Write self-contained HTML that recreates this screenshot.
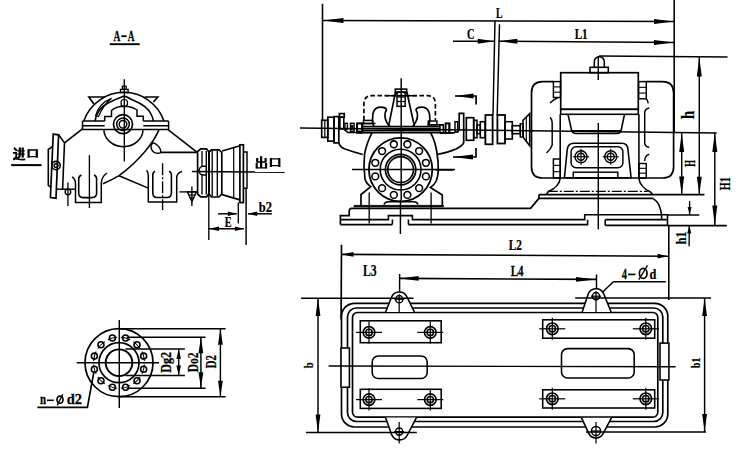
<!DOCTYPE html>
<html><head><meta charset="utf-8"><style>
html,body{margin:0;padding:0;background:#fff;width:750px;height:450px;overflow:hidden}
svg{display:block}
text{font-family:"Liberation Serif",serif;font-weight:bold;fill:#000;stroke:#000;stroke-width:0.25px}
</style></head><body>
<svg width="750" height="450" viewBox="0 0 750 450">
<g fill="none" stroke="#000" stroke-width="1.5" stroke-linecap="butt" stroke-linejoin="miter">
<text transform="matrix(0.6090,0,0,1,113.50,40.60)" font-size="15.61">A</text>
<line x1="121.30" y1="36.20" x2="126.60" y2="36.20" stroke-width="1.79"/>
<text transform="matrix(0.5999,0,0,1,127.71,40.60)" font-size="15.61">A</text>
<line x1="109.70" y1="44.20" x2="139.70" y2="44.20" stroke-width="1.90"/>
<path d="M14,147.8 Q16,149 16.6,151" stroke-width="2.13"/>
<path d="M12.9,152.8 H16.2 V157 L13.3,159.8" stroke-width="1.79"/>
<path d="M13.5,158.8 Q15.5,158.3 17.5,159 Q21,159.8 25.3,159.4" stroke-width="1.79"/>
<path d="M17.3,150.8 H24.8 M17.3,154.1 H24.8" stroke-width="1.34"/>
<path d="M19.8,147.5 V155.5 Q19.5,157.5 17.3,158.3" stroke-width="2.24"/>
<path d="M22.7,147.5 V157.6" stroke-width="2.24"/>
<path d="M28.6,149.2 V157.8 M36.8,149.2 V157.8" stroke-width="2.24"/>
<path d="M28.6,150 H36.8 M28.6,156.6 H36.8" stroke-width="1.34"/>
<line x1="11.20" y1="165.10" x2="41.50" y2="165.10" stroke-width="2.02"/>
<path d="M83.8,121 A42.4,42.4 0 0 1 164,121"/>
<path d="M95,121 Q97,109 108,103 Q116,99 120.5,97.5 Q124.3,95.3 128,97.5 Q131,99.5 134.4,100.8 Q147,106 151,114 Q153,118 153.4,121" stroke-width="1.57"/>
<path d="M95.5,116 Q99,103 111.6,98.3 Q104,104 98.5,116.5 Z" stroke-width="1.23"/>
<path d="M93.9,104 L88.9,97 L105.3,97" stroke-width="1.68"/>
<path d="M153.4,102 L157.8,97 L144.6,97" stroke-width="1.68"/>
<line x1="124.30" y1="79.30" x2="124.30" y2="161.40" stroke-width="1.34"/>
<rect x="122.40" y="86.20" width="3.80" height="3.20" stroke-width="1.23"/>
<rect x="120.50" y="89.40" width="7.60" height="3.20" stroke-width="1.34"/>
<rect x="121.00" y="99.50" width="6.50" height="7.00" rx="3" stroke-width="1.23"/>
<path d="M104.7,121 V116.5 H111.5 V110.5 Q116,106.5 124.3,106.3 Q132,106.5 137,110 V116.3 H143.3 V121"/>
<path d="M82.5,121 H104.7 M143.3,121 H168.6 M82.5,125.7 H104.7 M143.3,125.7 H168.6 M82.5,129.6 H168.6 M82.5,121 V129.6 M168.6,121 V129.6"/>
<circle cx="123.00" cy="124.20" r="9.5" stroke-width="1.68"/>
<circle cx="123.00" cy="124.20" r="6.3" stroke-width="1.46"/>
<circle cx="123.00" cy="124.20" r="3.8" stroke-width="1.46"/>
<path d="M103.9,129.6 A19.5,17 0 0 0 143,129.6"/>
<path d="M159,129.6 C154,142 140,160 119,175.7 Q112,180 103,183.7"/>
<path d="M119,175.7 L148.3,188.1" stroke-width="1.57"/>
<path d="M152.5,142.8 Q149,148 154,152.3 Q158,154 160.8,152.6 Q161,148 157,145 Q155,143 152.5,142.8 Z" stroke-width="1.46"/>
<path d="M160.8,152.4 H197.2" stroke-width="1.57"/>
<path d="M168,129.6 L197.2,152.4" stroke-width="1.57"/>
<path d="M53.2,134.2 L58.6,134.8 L56,198.2 L50.4,197.6 Z" stroke-width="1.68"/>
<path d="M52.3,146.7 L48.3,149.5 L48.3,185.4 L50.9,187.3" stroke-width="1.57"/>
<path d="M58.6,134.8 L64.5,142.9 L62.6,189.2" stroke-width="1.57"/>
<path d="M64.5,142.9 L82.5,128.8" stroke-width="1.68"/>
<circle cx="56.00" cy="165.60" r="4.2" stroke-width="1.57"/>
<circle cx="56.00" cy="165.60" r="1.9" stroke-width="1.46"/>
<path d="M56.5,189.2 H74.9" stroke-width="1.46"/>
<line x1="67.90" y1="182.50" x2="67.90" y2="206.00" stroke-width="1.34"/>
<circle cx="67.90" cy="192.00" r="2.8" stroke-width="1.34"/>
<path d="M72,176.9 Q75.5,179 75.5,184 V202.4 H101.3 V183 Q101.5,177 107,173"/>
<path d="M81.5,175 Q78.7,176 78.7,179 V193 Q78.7,197.6 83,197.6 H92 Q96.6,197.6 96.6,193 V179 Q96.6,176 94,175" stroke-width="1.57"/>
<line x1="89.40" y1="155.20" x2="89.40" y2="208.00" stroke-width="1.34"/>
<path d="M146.6,170.3 Q148.3,172 148.3,176 V202 H176.7 V178 Q176.7,173 182.1,171.4"/>
<path d="M155,171.2 Q152.8,172 152.8,175 V193 Q152.8,197.5 157,197.5 H167 Q171.4,197.5 171.4,193 V175 Q171.4,172 169,171.2" stroke-width="1.57"/>
<line x1="162.60" y1="163.20" x2="162.60" y2="210.00" stroke-width="1.34" stroke-dasharray="12,2,2,2"/>
<line x1="191.90" y1="186.60" x2="191.90" y2="206.00" stroke-width="1.34"/>
<line x1="179.40" y1="191.90" x2="197.20" y2="191.90" stroke-width="1.34"/>
<path d="M187.4,191.9 H196.3 L191.9,201.7 Z" stroke-width="1.34"/>
<line x1="188.50" y1="195.00" x2="195.30" y2="195.00" stroke-width="1.12"/>
<line x1="189.50" y1="198.00" x2="194.30" y2="198.00" stroke-width="1.12"/>
<path d="M197.6,151.5 L200.8,148.8 H206.5 L209,152 V193.5 L206.5,196.8 H200.8 L197.6,194 Z" stroke-width="1.68"/>
<line x1="202.00" y1="151.00" x2="202.00" y2="166.20" stroke-width="1.34"/>
<line x1="202.00" y1="175.00" x2="202.00" y2="194.50" stroke-width="1.34"/>
<line x1="206.30" y1="151.00" x2="206.30" y2="194.50" stroke-width="1.34"/>
<path d="M203.4,166.2 A4.4,4.4 0 0 0 203.4,175 H206.3 V166.2 Z" stroke-width="1.57" fill="#fff"/>
<path d="M209,152 L211.5,149.8 H219 L221.8,152.5 V194 L219,197 H211.5 L209,194 Z" stroke-width="1.68"/>
<line x1="212.20" y1="150.50" x2="212.20" y2="196.00" stroke-width="1.34"/>
<line x1="217.30" y1="150.50" x2="217.30" y2="196.00" stroke-width="1.34"/>
<path d="M222.1,151 L239.9,145.7 M222.1,194.6 L239.9,199.9" stroke-width="1.68"/>
<line x1="233.70" y1="148.00" x2="233.70" y2="197.50" stroke-width="1.23"/>
<rect x="239.90" y="144.80" width="3.50" height="57.80" stroke-width="1.68"/>
<path d="M243.4,151.9 H247 V188.3 H243.4" stroke-width="1.46"/>
<line x1="191.90" y1="171.50" x2="284.70" y2="172.20" stroke-width="1.68"/>
<path d="M261.1,156.2 V167.8" stroke-width="2.24"/>
<path d="M257.2,158 V162.4 M265.6,158 V162.4 M256.7,163 V168.5 M266.1,163 V168.5" stroke-width="2.13"/>
<path d="M257.2,162 H265.6 M256.7,167.9 H266.1" stroke-width="1.34"/>
<path d="M270.9,158 V166.9 M279.3,158 V166.9" stroke-width="2.24"/>
<path d="M270.9,158.9 H279.3 M270.9,165.7 H279.3" stroke-width="1.34"/>
<line x1="208.80" y1="193.70" x2="208.80" y2="240.00" stroke-width="1.34"/>
<line x1="238.30" y1="202.60" x2="238.30" y2="223.40" stroke-width="1.34"/>
<line x1="246.10" y1="188.30" x2="246.10" y2="245.00" stroke-width="1.46"/>
<line x1="218.10" y1="213.80" x2="236.80" y2="213.80" stroke-width="1.46"/>
<polygon points="236.80,213.80 227.80,211.50 227.80,216.10" fill="#000" stroke="none"/>
<line x1="247.90" y1="213.80" x2="271.90" y2="213.80" stroke-width="1.46"/>
<polygon points="247.90,213.80 257.20,211.50 257.20,216.10" fill="#000" stroke="none"/>
<text transform="matrix(0.8965,0,0,1,258.81,211.76)" font-size="13.90">b2</text>
<line x1="208.80" y1="228.80" x2="243.90" y2="228.80" stroke-width="1.46"/>
<polygon points="209.00,228.80 219.00,226.50 219.00,231.10" fill="#000" stroke="none"/>
<polygon points="243.90,228.80 234.90,226.50 234.90,231.10" fill="#000" stroke="none"/>
<text transform="matrix(0.7200,0,0,1,224.65,226.60)" font-size="14.35">E</text>
<circle cx="119.00" cy="362.70" r="34" stroke-width="1.68"/>
<circle cx="119.00" cy="362.70" r="20" stroke-width="1.68"/>
<circle cx="119.00" cy="362.70" r="13.3" stroke-width="1.90"/>
<circle cx="143.63" cy="356.10" r="3.0" stroke-width="1.57"/>
<path d="M144.44,360.92 A25.5,25.5 0 0 0 141.92,351.52" stroke-width="1.01"/>
<circle cx="137.03" cy="344.67" r="3.0" stroke-width="1.57"/>
<path d="M140.14,348.44 A25.5,25.5 0 0 0 133.26,341.56" stroke-width="1.01"/>
<circle cx="125.60" cy="338.07" r="3.0" stroke-width="1.57"/>
<path d="M130.18,339.78 A25.5,25.5 0 0 0 120.78,337.26" stroke-width="1.01"/>
<circle cx="112.40" cy="338.07" r="3.0" stroke-width="1.57"/>
<path d="M117.22,337.26 A25.5,25.5 0 0 0 107.82,339.78" stroke-width="1.01"/>
<circle cx="100.97" cy="344.67" r="3.0" stroke-width="1.57"/>
<path d="M104.74,341.56 A25.5,25.5 0 0 0 97.86,348.44" stroke-width="1.01"/>
<circle cx="94.37" cy="356.10" r="3.0" stroke-width="1.57"/>
<path d="M96.08,351.52 A25.5,25.5 0 0 0 93.56,360.92" stroke-width="1.01"/>
<circle cx="94.37" cy="369.30" r="3.0" stroke-width="1.57"/>
<path d="M93.56,364.48 A25.5,25.5 0 0 0 96.08,373.88" stroke-width="1.01"/>
<circle cx="100.97" cy="380.73" r="3.0" stroke-width="1.57"/>
<path d="M97.86,376.96 A25.5,25.5 0 0 0 104.74,383.84" stroke-width="1.01"/>
<circle cx="112.40" cy="387.33" r="3.0" stroke-width="1.57"/>
<path d="M107.82,385.62 A25.5,25.5 0 0 0 117.22,388.14" stroke-width="1.01"/>
<circle cx="125.60" cy="387.33" r="3.0" stroke-width="1.57"/>
<path d="M120.78,388.14 A25.5,25.5 0 0 0 130.18,385.62" stroke-width="1.01"/>
<circle cx="137.03" cy="380.73" r="3.0" stroke-width="1.57"/>
<path d="M133.26,383.84 A25.5,25.5 0 0 0 140.14,376.96" stroke-width="1.01"/>
<circle cx="143.63" cy="369.30" r="3.0" stroke-width="1.57"/>
<path d="M141.92,373.88 A25.5,25.5 0 0 0 144.44,364.48" stroke-width="1.01"/>
<line x1="119.30" y1="320.00" x2="119.30" y2="408.00" stroke-width="1.46"/>
<line x1="76.70" y1="362.70" x2="159.00" y2="362.70" stroke-width="1.46"/>
<line x1="119.00" y1="328.70" x2="225.60" y2="328.70" stroke-width="1.46"/>
<line x1="119.00" y1="396.70" x2="225.60" y2="396.70" stroke-width="1.46"/>
<line x1="126.70" y1="337.20" x2="205.60" y2="337.20" stroke-width="1.46"/>
<line x1="126.70" y1="388.20" x2="205.60" y2="388.20" stroke-width="1.46"/>
<line x1="125.50" y1="349.00" x2="184.90" y2="349.00" stroke-width="1.46"/>
<line x1="125.50" y1="375.60" x2="184.90" y2="375.60" stroke-width="1.46"/>
<line x1="220.40" y1="328.70" x2="220.40" y2="396.70" stroke-width="1.46"/>
<polygon points="220.40,328.70 218.00,344.70 222.80,344.70" fill="#000" stroke="none"/>
<polygon points="220.40,396.70 218.00,380.70 222.80,380.70" fill="#000" stroke="none"/>
<line x1="200.90" y1="337.20" x2="200.90" y2="388.20" stroke-width="1.46"/>
<polygon points="200.90,337.20 198.50,353.20 203.30,353.20" fill="#000" stroke="none"/>
<polygon points="200.90,388.20 198.50,372.20 203.30,372.20" fill="#000" stroke="none"/>
<line x1="178.70" y1="349.00" x2="178.70" y2="375.60" stroke-width="1.46"/>
<polygon points="178.70,349.00 176.40,359.00 181.00,359.00" fill="#000" stroke="none"/>
<polygon points="178.70,375.60 176.40,365.60 181.00,365.60" fill="#000" stroke="none"/>
<text transform="matrix(0,-0.7305,1,0,216.40,368.21)" font-size="14.70">D2</text>
<text transform="matrix(0,-0.7581,1,0,198.05,372.23)" font-size="15.22">Do2</text>
<text transform="matrix(0,-0.8862,1,0,171.20,372.64)" font-size="13.64">Dg2</text>
<path d="M37.4,407.4 H87.4 L94,371.3" stroke-width="1.68"/>
<text transform="matrix(0.7516,0,0,1,39.93,403.80)" font-size="14.47">n</text>
<line x1="47.00" y1="400.30" x2="53.80" y2="400.30" stroke-width="1.57"/>
<ellipse cx="60" cy="399.7" rx="3" ry="3.6" stroke-width="1.68"/>
<line x1="62.80" y1="394.20" x2="57.20" y2="405.40" stroke-width="1.34"/>
<text transform="matrix(1.0383,0,0,1,66.82,403.86)" font-size="13.90">d2</text>
<line x1="322.50" y1="3.80" x2="322.50" y2="121.00" stroke-width="1.57"/>
<line x1="322.50" y1="20.50" x2="674.00" y2="21.50" stroke-width="1.57"/>
<polygon points="322.50,20.50 343.50,18.00 343.50,23.00" fill="#000" stroke="none"/>
<polygon points="674.00,21.50 654.00,19.00 654.00,24.00" fill="#000" stroke="none"/>
<text transform="matrix(0.6465,0,0,1,496.05,17.70)" font-size="14.96">L</text>
<line x1="674.20" y1="0.00" x2="674.20" y2="132.00" stroke-width="1.57"/>
<line x1="495.00" y1="20.50" x2="493.00" y2="115.00" stroke-width="1.46"/>
<line x1="499.50" y1="24.30" x2="497.20" y2="115.00" stroke-width="1.46"/>
<line x1="453.00" y1="41.20" x2="494.30" y2="41.20" stroke-width="1.57"/>
<polygon points="494.30,41.20 477.70,38.70 477.70,43.70" fill="#000" stroke="none"/>
<line x1="498.70" y1="41.20" x2="674.00" y2="42.50" stroke-width="1.57"/>
<polygon points="498.70,41.20 517.30,38.70 517.30,43.70" fill="#000" stroke="none"/>
<polygon points="674.00,42.50 654.00,40.00 654.00,45.00" fill="#000" stroke="none"/>
<text transform="matrix(0.7052,0,0,1,466.88,38.55)" font-size="14.78">C</text>
<text transform="matrix(0.7469,0,0,1,574.63,38.80)" font-size="14.85">L1</text>
<line x1="599.00" y1="56.00" x2="727.50" y2="57.00" stroke-width="1.57"/>
<line x1="699.30" y1="57.00" x2="699.30" y2="194.40" stroke-width="1.46"/>
<polygon points="699.30,57.00 696.80,76.60 701.80,76.60" fill="#000" stroke="none"/>
<polygon points="699.30,194.40 696.80,176.70 701.80,176.70" fill="#000" stroke="none"/>
<text transform="matrix(0,-0.7907,1,0,693.90,118.96)" font-size="18.42">h</text>
<line x1="681.70" y1="132.90" x2="681.70" y2="194.40" stroke-width="1.46"/>
<polygon points="681.70,132.90 679.20,151.90 684.20,151.90" fill="#000" stroke="none"/>
<polygon points="681.70,194.40 679.20,176.40 684.20,176.40" fill="#000" stroke="none"/>
<text transform="matrix(0,-0.5627,1,0,695.00,166.83)" font-size="15.27">H</text>
<line x1="714.80" y1="132.90" x2="714.80" y2="225.60" stroke-width="1.46"/>
<polygon points="714.80,132.90 712.30,151.90 717.30,151.90" fill="#000" stroke="none"/>
<polygon points="714.80,225.60 712.30,205.60 717.30,205.60" fill="#000" stroke="none"/>
<text transform="matrix(0,-0.6960,1,0,730.30,190.15)" font-size="14.55">H1</text>
<line x1="652.60" y1="194.60" x2="704.40" y2="194.60" stroke-width="1.57"/>
<line x1="667.50" y1="225.60" x2="726.80" y2="225.60" stroke-width="1.57"/>
<line x1="667.50" y1="214.90" x2="699.30" y2="214.90" stroke-width="1.46"/>
<line x1="689.60" y1="201.10" x2="689.60" y2="214.60" stroke-width="1.34"/>
<polygon points="689.60,214.60 687.60,207.10 691.60,207.10" fill="#000" stroke="none"/>
<line x1="689.30" y1="225.60" x2="689.10" y2="246.30" stroke-width="1.34"/>
<polygon points="689.30,225.60 687.20,233.60 691.40,233.60" fill="#000" stroke="none"/>
<text transform="matrix(0,-0.8297,1,0,686.20,244.20)" font-size="14.39">h1</text>
<line x1="300.00" y1="128.00" x2="716.70" y2="132.90" stroke-width="1.46"/>
<rect x="321.70" y="120.30" width="6.10" height="17.10" stroke-width="1.68"/>
<line x1="324.80" y1="120.30" x2="324.80" y2="137.40" stroke-width="1.23"/>
<rect x="327.80" y="117.20" width="6.20" height="23.90" stroke-width="1.68"/>
<rect x="334.00" y="116.60" width="4.80" height="26.30" stroke-width="1.68"/>
<rect x="339.40" y="113.60" width="4.90" height="3.60" stroke-width="1.68"/>
<rect x="339.90" y="117.20" width="3.90" height="11.80" stroke-width="1.57"/>
<rect x="345.00" y="123.30" width="2.40" height="6.10" stroke-width="1.34"/>
<rect x="350.50" y="123.30" width="3.60" height="8.00" stroke-width="1.46"/>
<rect x="351.50" y="125.50" width="1.50" height="4.00" stroke-width="0.90" fill="#000"/>
<rect x="357.20" y="123.30" width="5.50" height="8.00" stroke-width="1.46"/>
<path d="M344,129.4 L348,132.5 H370" stroke-width="1.57"/>
<path d="M338.8,142.9 Q340,147 345,149 Q355,152.5 362.7,154.5" stroke-width="1.68"/>
<path d="M361.8,126.4 H440 M361.8,128.5 H440 M361.8,130.7 H440 M356.8,132.8 H455" stroke-width="1.46"/>
<rect x="356.80" y="123.50" width="5.00" height="9.30" stroke-width="1.57"/>
<path d="M356.8,123.5 H375.5 M427.3,124.8 H443.3" stroke-width="1.57"/>
<rect x="440.00" y="124.80" width="3.30" height="8.00" stroke-width="1.46"/>
<rect x="445.40" y="123.20" width="4.30" height="9.60" stroke-width="1.57"/>
<rect x="363.50" y="120.40" width="9.00" height="3.10" stroke-width="1.46"/>
<rect x="428.30" y="121.00" width="8.60" height="3.80" stroke-width="1.46"/>
<path d="M363.9,120.3 V104 Q363.9,95.7 372,95.7 H427.5 Q435.4,95.7 435.4,104 V120.3" stroke-width="1.68" stroke-dasharray="4.5,2.5"/>
<line x1="401.20" y1="78.30" x2="401.20" y2="200.00" stroke-width="1.46"/>
<line x1="385.60" y1="95.70" x2="416.70" y2="95.70" stroke-width="1.46"/>
<rect x="395.30" y="89.10" width="11.40" height="3.10" stroke-width="1.57"/>
<rect x="397.00" y="92.20" width="8.20" height="14.10" stroke-width="1.46"/>
<path d="M396,94 Q401,89.5 406.2,94" stroke-width="1.23"/>
<line x1="396.80" y1="97.00" x2="405.00" y2="97.00" stroke-width="1.23"/>
<line x1="396.80" y1="101.50" x2="405.00" y2="101.50" stroke-width="1.23"/>
<path d="M395.5,92.2 L388.5,126.6 M406.9,92.2 L414.5,126.6" stroke-width="1.68"/>
<path d="M373.6,126.4 C371.5,118.0 372.0,109.0 378.4,107.4 C383.0,106.5 386.5,108.0 386.4,110.0 C384.3,113.0 384.5,118.0 386.4,121.5 Q387.5,124 389.6,126.4" stroke-width="1.68"/>
<path d="M428.8,126.4 C430.9,118.0 430.4,109.0 424.0,107.4 C419.4,106.5 415.9,108.0 416.0,110.0 C418.1,113.0 417.9,118.0 416.0,121.5 Q414.9,124 412.8,126.4" stroke-width="1.68"/>
<path d="M372.2,132.3 Q366.5,143 364.5,154.5 Q363.3,167 365,179 Q366.5,184 370.8,186.6 L361,194.5 V205.5" stroke-width="1.68"/>
<path d="M430.5,132.3 Q435.5,142 436.8,152 Q438.5,162 438.3,170 Q438,177 436.2,181 Q434,185.5 430.4,187.5 L442.3,195 V205.5" stroke-width="1.68"/>
<path d="M384,204.5 Q385,201.7 388.5,201.7 H413.5 Q417,201.7 418,204.5" stroke-width="1.57"/>
<circle cx="400.60" cy="169.60" r="31.7" stroke-width="1.79"/>
<circle cx="400.60" cy="169.60" r="20.4" stroke-width="1.57"/>
<circle cx="400.60" cy="169.60" r="15.2" stroke-width="1.68"/>
<circle cx="400.60" cy="169.60" r="12.9" stroke-width="1.68"/>
<circle cx="425.91" cy="162.82" r="3.4" stroke-width="1.57"/>
<circle cx="419.13" cy="151.07" r="3.4" stroke-width="1.57"/>
<circle cx="407.38" cy="144.29" r="3.4" stroke-width="1.57"/>
<circle cx="393.82" cy="144.29" r="3.4" stroke-width="1.57"/>
<circle cx="382.07" cy="151.07" r="3.4" stroke-width="1.57"/>
<circle cx="375.29" cy="162.82" r="3.4" stroke-width="1.57"/>
<circle cx="375.29" cy="176.38" r="3.4" stroke-width="1.57"/>
<circle cx="382.07" cy="188.13" r="3.4" stroke-width="1.57"/>
<circle cx="393.82" cy="194.91" r="3.4" stroke-width="1.57"/>
<circle cx="407.38" cy="194.91" r="3.4" stroke-width="1.57"/>
<circle cx="419.13" cy="188.13" r="3.4" stroke-width="1.57"/>
<circle cx="425.91" cy="176.38" r="3.4" stroke-width="1.57"/>
<line x1="352.00" y1="169.60" x2="455.00" y2="169.60" stroke-width="1.46"/>
<path d="M437,154.5 Q448,152.5 456,149 Q462,146 463.7,143" stroke-width="1.57"/>
<rect x="354.00" y="205.20" width="89.60" height="1.70" stroke-width="0.56" fill="#000"/>
<path d="M350.8,208.4 H530.5 L538.9,198.4" stroke-width="1.68"/>
<path d="M350.8,208.4 Q349.2,209 349.2,211 V215.6 H340.4 V224.6" stroke-width="1.68"/>
<path d="M340.4,224.6 H392.4 M408.4,224.6 H587.6 M605.2,225.4 H668" stroke-width="1.68"/>
<path d="M340.4,219.6 H388.4 V215.6 H412.4 V219.6 H584.7 V214.7 H668" stroke-width="1.57"/>
<path d="M392.4,219.6 V224.6 M408.4,219.6 V224.6 M587.6,219.8 V225.2 M605.2,219.8 V225.2 M605.2,219.6 H667.5 M661.6,214.7 V219.6 M667.5,214.7 V225.6" stroke-width="1.57"/>
<line x1="369.20" y1="192.40" x2="369.20" y2="223.60" stroke-width="1.34"/>
<line x1="431.10" y1="192.40" x2="431.10" y2="223.60" stroke-width="1.34"/>
<line x1="400.50" y1="200.00" x2="400.40" y2="234.00" stroke-width="1.46"/>
<path d="M455,96 H476.1 V104.6" stroke-width="1.68"/>
<polygon points="455.00,96.00 473.50,93.40 473.50,98.60" fill="#000" stroke="none"/>
<path d="M453,157 H476 V148.1" stroke-width="1.68"/>
<polygon points="453.00,157.00 473.00,154.40 473.00,159.60" fill="#000" stroke="none"/>
<line x1="435.60" y1="170.00" x2="453.60" y2="170.00" stroke-width="1.46"/>
<rect x="445.70" y="123.70" width="3.30" height="9.30" stroke-width="1.46"/>
<rect x="455.00" y="121.70" width="2.70" height="10.30" stroke-width="1.46"/>
<path d="M440,133 H450 Q456,133 459,131" stroke-width="1.46"/>
<path d="M459.2,131 V113.4 H463.7 V143" stroke-width="1.68"/>
<rect x="466.30" y="117.70" width="7.40" height="22.60" stroke-width="1.68"/>
<rect x="473.70" y="120.30" width="3.30" height="17.40" stroke-width="1.57"/>
<rect x="477.00" y="125.00" width="3.30" height="8.70" stroke-width="1.46"/>
<rect x="480.30" y="121.70" width="4.70" height="16.00" stroke-width="1.57"/>
<rect x="485.40" y="115.00" width="7.20" height="29.30" stroke-width="1.79"/>
<rect x="497.40" y="115.00" width="7.60" height="28.50" stroke-width="1.79"/>
<rect x="505.00" y="121.70" width="7.30" height="17.30" stroke-width="1.57"/>
<rect x="512.30" y="125.70" width="8.00" height="8.00" stroke-width="1.57"/>
<rect x="520.30" y="123.70" width="2.70" height="13.30" stroke-width="1.46"/>
<path d="M523,120.3 L529.7,113.7 V145.7 L523,137 Z" stroke-width="1.57"/>
<line x1="526.30" y1="117.00" x2="526.30" y2="141.50" stroke-width="1.12"/>
<path d="M594.3,67.3 V61.7 A5,5 0 0 1 604.3,61.7 V67.3" stroke-width="1.57"/>
<rect x="590.00" y="67.30" width="18.30" height="5.40" stroke-width="1.57"/>
<rect x="560.70" y="72.70" width="77.60" height="36.60" stroke-width="1.68"/>
<rect x="560.70" y="109.30" width="77.60" height="5.00" stroke-width="1.57"/>
<path d="M568,114.3 L571.5,130 Q572.3,133.5 576,133.5 H617 Q620.5,133.5 621.2,130 L624.5,114.3" stroke-width="1.57"/>
<line x1="572.00" y1="130.50" x2="621.00" y2="130.50" stroke-width="1.12"/>
<path d="M553.4,81.6 H542.7 Q531.5,81.6 531.5,92.7 V167 Q531.5,178 542.7,178 H662.5 Q673.6,178 673.6,167 V92.7 Q673.6,81.6 662.5,81.6 H646.3" stroke-width="1.68"/>
<rect x="553.40" y="81.60" width="7.10" height="15.90" stroke-width="1.46"/>
<line x1="553.40" y1="86.90" x2="560.50" y2="86.90" stroke-width="1.12"/>
<line x1="553.40" y1="92.20" x2="560.50" y2="92.20" stroke-width="1.12"/>
<rect x="638.60" y="81.60" width="7.70" height="17.20" stroke-width="1.46"/>
<line x1="638.60" y1="87.33" x2="646.30" y2="87.33" stroke-width="1.12"/>
<line x1="638.60" y1="93.07" x2="646.30" y2="93.07" stroke-width="1.12"/>
<rect x="553.40" y="159.00" width="6.90" height="19.00" stroke-width="1.46"/>
<line x1="553.40" y1="165.33" x2="560.30" y2="165.33" stroke-width="1.12"/>
<line x1="553.40" y1="171.67" x2="560.30" y2="171.67" stroke-width="1.12"/>
<rect x="638.90" y="163.50" width="7.40" height="14.50" stroke-width="1.46"/>
<line x1="638.90" y1="168.33" x2="646.30" y2="168.33" stroke-width="1.12"/>
<line x1="638.90" y1="173.17" x2="646.30" y2="173.17" stroke-width="1.12"/>
<path d="M550,103 Q553,99.5 557.5,98 M550,117.3 Q552.2,119 552.2,124.2 V145 Q551,149 546.5,153" stroke-width="1.46"/>
<path d="M646.3,98.8 Q648,100.5 648.2,103.4 M649.3,108 Q644.7,109 644.7,112.6 V142.7 Q644.7,146.5 649.3,147.3 M649.3,154.2 Q644.7,155.5 644.7,161.1" stroke-width="1.46"/>
<path d="M560.2,114.3 V178.5 Q559,187 548.5,191.5 L546.3,194.6" stroke-width="1.57"/>
<path d="M638.9,114.3 V178.5 Q640,187 650.2,191.8 L652.6,194.6" stroke-width="1.57"/>
<path d="M564.4,177.8 L567.2,150 Q567.8,143.3 574,143.3 H621.5 Q627.8,143.3 628,150 L631.1,177.8 Z" stroke-width="1.57"/>
<rect x="571.10" y="146.70" width="51.80" height="21.10" rx="5" stroke-width="1.46"/>
<circle cx="581.00" cy="156.70" r="6" stroke-width="1.46"/>
<circle cx="581.00" cy="156.70" r="3.5" stroke-width="1.46"/>
<line x1="573.00" y1="156.70" x2="589.00" y2="156.70" stroke-width="1.12"/>
<line x1="581.00" y1="148.70" x2="581.00" y2="164.70" stroke-width="1.12"/>
<circle cx="610.70" cy="156.70" r="6" stroke-width="1.46"/>
<circle cx="610.70" cy="156.70" r="3.5" stroke-width="1.46"/>
<line x1="602.70" y1="156.70" x2="618.70" y2="156.70" stroke-width="1.12"/>
<line x1="610.70" y1="148.70" x2="610.70" y2="164.70" stroke-width="1.12"/>
<rect x="573.30" y="172.20" width="44.50" height="5.60" stroke-width="1.46"/>
<line x1="598.30" y1="56.00" x2="598.30" y2="80.00" stroke-width="1.46"/>
<line x1="598.30" y1="123.00" x2="598.30" y2="229.30" stroke-width="1.46"/>
<line x1="547.80" y1="191.30" x2="647.80" y2="191.30" stroke-width="1.34" stroke-dasharray="10,2,2,2"/>
<path d="M538.9,194.6 H653.3 M538.9,198.4 H653.3 M538.9,194.6 V198.4" stroke-width="1.57"/>
<path d="M653.3,198.6 Q657,201 659,205 Q661,210 661.6,214.7" stroke-width="1.57"/>
<text transform="matrix(0.7249,0,0,1,508.73,250.00)" font-size="15.61">L2</text>
<line x1="341.50" y1="244.70" x2="341.10" y2="319.40" stroke-width="1.68"/>
<line x1="341.50" y1="254.40" x2="668.80" y2="256.20" stroke-width="1.57"/>
<polygon points="341.50,254.40 353.50,252.00 353.50,256.80" fill="#000" stroke="none"/>
<polygon points="668.00,256.20 657.60,253.80 657.60,258.60" fill="#000" stroke="none"/>
<line x1="668.80" y1="225.60" x2="668.80" y2="300.00" stroke-width="1.57"/>
<text transform="matrix(0.7167,0,0,1,362.93,275.64)" font-size="16.27">L3</text>
<line x1="399.60" y1="274.00" x2="399.60" y2="311.90" stroke-width="1.46"/>
<line x1="399.60" y1="278.40" x2="596.00" y2="279.40" stroke-width="1.57"/>
<polygon points="399.60,278.40 418.60,276.00 418.60,280.80" fill="#000" stroke="none"/>
<polygon points="596.00,279.40 576.00,277.00 576.00,281.80" fill="#000" stroke="none"/>
<line x1="596.50" y1="274.60" x2="596.50" y2="300.00" stroke-width="1.46"/>
<text transform="matrix(0.7171,0,0,1,510.74,276.40)" font-size="15.30">L4</text>
<text transform="matrix(0.6818,0,0,1,621.74,279.10)" font-size="15.45">4</text>
<line x1="628.00" y1="274.40" x2="635.50" y2="274.40" stroke-width="1.68"/>
<ellipse cx="643.2" cy="273.4" rx="3.8" ry="5" stroke-width="1.68"/>
<line x1="647.50" y1="265.30" x2="638.80" y2="279.60" stroke-width="1.34"/>
<text transform="matrix(0.8486,0,0,1,649.41,278.96)" font-size="14.47">d</text>
<path d="M601.6,293 L613.4,281.8 H665.9" stroke-width="1.46"/>
<line x1="318.00" y1="298.00" x2="318.00" y2="432.00" stroke-width="1.46"/>
<polygon points="318.00,298.00 315.60,316.00 320.40,316.00" fill="#000" stroke="none"/>
<polygon points="318.00,432.50 315.60,414.50 320.40,414.50" fill="#000" stroke="none"/>
<text transform="matrix(0,-0.9004,1,0,313.18,368.16)" font-size="11.77">b</text>
<line x1="704.60" y1="298.00" x2="704.60" y2="432.00" stroke-width="1.46"/>
<polygon points="704.60,298.00 702.20,316.00 707.00,316.00" fill="#000" stroke="none"/>
<polygon points="704.60,432.00 702.20,414.00 707.00,414.00" fill="#000" stroke="none"/>
<text transform="matrix(0,-0.8054,1,0,700.48,367.94)" font-size="11.91">b1</text>
<rect x="341.50" y="303.30" width="326.30" height="123.70" rx="13" stroke-width="1.68"/>
<rect x="347.50" y="308.00" width="315.30" height="113.50" rx="9" stroke-width="1.68"/>
<rect x="352.50" y="312.50" width="305.30" height="104.70" rx="5" stroke-width="1.68"/>
<rect x="341.00" y="348.00" width="8.40" height="39.20" stroke-width="1.57" fill="#fff"/>
<rect x="660.00" y="343.10" width="8.90" height="36.90" stroke-width="1.57" fill="#fff"/>
<line x1="328.60" y1="366.00" x2="675.60" y2="366.70" stroke-width="1.46"/>
<rect x="360.30" y="320.80" width="80.90" height="21.90" stroke-width="1.57"/>
<rect x="360.30" y="389.30" width="80.90" height="19.10" stroke-width="1.57"/>
<rect x="542.70" y="319.80" width="112.00" height="18.40" stroke-width="1.57"/>
<rect x="542.70" y="389.80" width="112.00" height="18.20" stroke-width="1.57"/>
<circle cx="369.00" cy="332.40" r="5.8" stroke-width="1.68"/>
<circle cx="369.00" cy="332.40" r="3.2" stroke-width="1.46"/>
<line x1="356.00" y1="332.40" x2="382.00" y2="332.40" stroke-width="1.23"/>
<line x1="369.00" y1="321.40" x2="369.00" y2="343.40" stroke-width="1.23"/>
<circle cx="430.30" cy="332.40" r="5.8" stroke-width="1.68"/>
<circle cx="430.30" cy="332.40" r="3.2" stroke-width="1.46"/>
<line x1="417.30" y1="332.40" x2="443.30" y2="332.40" stroke-width="1.23"/>
<line x1="430.30" y1="321.40" x2="430.30" y2="343.40" stroke-width="1.23"/>
<circle cx="369.00" cy="399.60" r="5.8" stroke-width="1.68"/>
<circle cx="369.00" cy="399.60" r="3.2" stroke-width="1.46"/>
<line x1="356.00" y1="399.60" x2="382.00" y2="399.60" stroke-width="1.23"/>
<line x1="369.00" y1="388.60" x2="369.00" y2="410.60" stroke-width="1.23"/>
<circle cx="430.30" cy="399.60" r="5.8" stroke-width="1.68"/>
<circle cx="430.30" cy="399.60" r="3.2" stroke-width="1.46"/>
<line x1="417.30" y1="399.60" x2="443.30" y2="399.60" stroke-width="1.23"/>
<line x1="430.30" y1="388.60" x2="430.30" y2="410.60" stroke-width="1.23"/>
<circle cx="552.30" cy="328.80" r="5.8" stroke-width="1.68"/>
<circle cx="552.30" cy="328.80" r="3.2" stroke-width="1.46"/>
<line x1="539.30" y1="328.80" x2="565.30" y2="328.80" stroke-width="1.23"/>
<line x1="552.30" y1="317.80" x2="552.30" y2="339.80" stroke-width="1.23"/>
<circle cx="645.80" cy="328.80" r="5.8" stroke-width="1.68"/>
<circle cx="645.80" cy="328.80" r="3.2" stroke-width="1.46"/>
<line x1="632.80" y1="328.80" x2="658.80" y2="328.80" stroke-width="1.23"/>
<line x1="645.80" y1="317.80" x2="645.80" y2="339.80" stroke-width="1.23"/>
<circle cx="552.30" cy="398.80" r="5.8" stroke-width="1.68"/>
<circle cx="552.30" cy="398.80" r="3.2" stroke-width="1.46"/>
<line x1="539.30" y1="398.80" x2="565.30" y2="398.80" stroke-width="1.23"/>
<line x1="552.30" y1="387.80" x2="552.30" y2="409.80" stroke-width="1.23"/>
<circle cx="645.80" cy="398.80" r="5.8" stroke-width="1.68"/>
<circle cx="645.80" cy="398.80" r="3.2" stroke-width="1.46"/>
<line x1="632.80" y1="398.80" x2="658.80" y2="398.80" stroke-width="1.23"/>
<line x1="645.80" y1="387.80" x2="645.80" y2="409.80" stroke-width="1.23"/>
<rect x="372.20" y="356.00" width="55.00" height="22.50" rx="6" stroke-width="1.57"/>
<rect x="561.50" y="348.60" width="72.70" height="29.40" rx="6" stroke-width="1.57"/>
<path d="M385.60,312.00 L391.50,297.27 A8.4,8.4 0 0 1 406.83,296.68 L414.40,312.00" stroke-width="1.57" fill="#fff"/>
<path d="M582.20,312.00 L588.03,294.54 A8.4,8.4 0 0 1 603.78,294.03 L611.10,312.00" stroke-width="1.57" fill="#fff"/>
<path d="M385.60,417.60 L391.50,434.18 A8.6,8.6 0 0 0 407.23,435.26 L416.40,417.60" stroke-width="1.57" fill="#fff"/>
<path d="M581.50,417.80 L588.75,433.37 A8,8 0 0 0 603.07,433.74 L611.50,417.80" stroke-width="1.57" fill="#fff"/>
<circle cx="399.20" cy="299.20" r="3.6" stroke-width="1.46"/>
<line x1="399.20" y1="294.20" x2="399.20" y2="312.00" stroke-width="1.23"/>
<line x1="394.20" y1="299.20" x2="404.20" y2="299.20" stroke-width="1.23"/>
<circle cx="596.00" cy="296.20" r="3.6" stroke-width="1.46"/>
<line x1="596.00" y1="291.20" x2="596.00" y2="312.00" stroke-width="1.23"/>
<line x1="591.00" y1="296.20" x2="601.00" y2="296.20" stroke-width="1.23"/>
<circle cx="399.20" cy="431.60" r="3.6" stroke-width="1.46"/>
<line x1="399.20" y1="422.00" x2="399.20" y2="443.60" stroke-width="1.23"/>
<line x1="394.20" y1="431.60" x2="404.20" y2="431.60" stroke-width="1.23"/>
<circle cx="596.00" cy="431.00" r="4.6" stroke-width="1.46"/>
<line x1="596.00" y1="422.00" x2="596.00" y2="443.60" stroke-width="1.23"/>
<line x1="591.00" y1="431.00" x2="601.00" y2="431.00" stroke-width="1.23"/>
<line x1="301.10" y1="298.30" x2="413.60" y2="298.30" stroke-width="1.46"/>
<line x1="305.90" y1="432.50" x2="416.80" y2="432.50" stroke-width="1.46"/>
<line x1="575.20" y1="298.00" x2="711.00" y2="298.00" stroke-width="1.46"/>
<line x1="586.00" y1="432.00" x2="706.00" y2="432.00" stroke-width="1.46"/>
</g>
</svg>
</body></html>
